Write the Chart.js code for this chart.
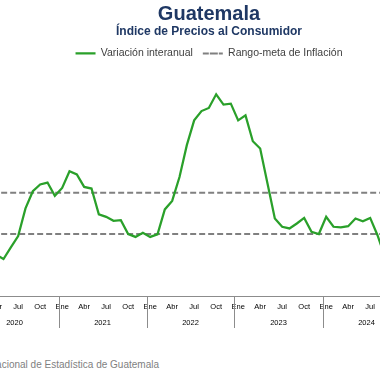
<!DOCTYPE html>
<html lang="es">
<head>
<meta charset="utf-8">
<title>Guatemala - Índice de Precios al Consumidor</title>
<script src="https://cdn.jsdelivr.net/npm/chart.js@4"></script>
<style>
    html, body {
        margin: 0;
        padding: 0;
        width: 380px;
        height: 380px;
        overflow: hidden;
        background: #ffffff;
        font-family: "Liberation Sans", Arial, sans-serif;
    }
    /* el gráfico original está recortado a ambos lados */
    #wrap {
        position: absolute;
        left: -60px;
        top: 0;
        width: 538px;
        height: 340px;
    }
    #fuente {
        position: absolute;
        right: 221px;
        top: 359px;
        white-space: nowrap;
        font-size: 10px;
        color: #7f7f7f;
    }
</style>
</head>
<body>
<div id="wrap"><canvas id="ipcChart"></canvas></div>
<div id="fuente">Fuente: Instituto Nacional de Estadística de Guatemala</div>

<script>
"use strict";

const meses = ['Ene', 'Feb', 'Mar', 'Abr', 'May', 'Jun', 'Jul', 'Ago', 'Sep', 'Oct', 'Nov', 'Dic'];
const anios = ['2020', '2021', '2022', '2023', '2024'];

// Variación interanual (%), por año
const variacion2020 = [null, null, null, 2.0, 1.79, 2.35, 2.9, 4.24, 5.07, 5.4, 5.49, 4.85];
const variacion2021 = [5.23, 6.04, 5.88, 5.28, 5.2, 3.95, 3.83, 3.64, 3.67, 3.0, 2.86, 3.06];
const variacion2022 = [2.86, 2.98, 4.19, 4.6, 5.76, 7.3, 8.5, 8.95, 9.1, 9.76, 9.26, 9.31];
const variacion2023 = [8.5, 8.74, 7.49, 7.14, 5.44, 3.75, 3.35, 3.27, 3.51, 3.78, 3.11, 3.0];
const variacion2024 = [3.83, 3.35, 3.32, 3.38, 3.75, 3.62, 3.78, 2.94, 1.9, null, null, null];

// Rango-meta de inflación: 4% +/- 1 punto
const rangoMeta = [3, 5];

const labels = anios.flatMap(a => meses.map(m => m + ' ' + a));
const variacion = [].concat(variacion2020, variacion2021, variacion2022, variacion2023, variacion2024);

Chart.defaults.font.family = "'Liberation Sans', Arial, sans-serif";

/**
 * Dibuja las etiquetas de año y los separadores bajo el eje x
 */
const yearGroups = {
    id: 'yearGroups',
    afterDraw(chart) {
        const xs = chart.scales.x;
        const ctx = chart.ctx;
        const half = (xs.getPixelForValue(1) - xs.getPixelForValue(0)) / 2;
        const top = chart.chartArea.bottom;

        ctx.save();
        ctx.strokeStyle = '#8c8c8c';
        ctx.lineWidth = 1;
        ctx.fillStyle = '#000000';
        ctx.font = "7.5px 'Liberation Sans', Arial, sans-serif";
        ctx.textAlign = 'center';
        ctx.textBaseline = 'middle';

        anios.forEach((anio, i) => {
            const start = xs.getPixelForValue(i * 12) - half;
            const end = xs.getPixelForValue(i * 12 + 11) + half;
            ctx.beginPath();
            ctx.moveTo(Math.round(start) + 0.5, top);
            ctx.lineTo(Math.round(start) + 0.5, top + 32);
            ctx.stroke();
            ctx.fillText(anio, (start + end) / 2, top + 27);
            if (i === anios.length - 1) {
                ctx.beginPath();
                ctx.moveTo(Math.round(end) + 0.5, top);
                ctx.lineTo(Math.round(end) + 0.5, top + 32);
                ctx.stroke();
            }
        });
        ctx.restore();
    }
};

const ctx = document.getElementById('ipcChart');

new Chart(ctx, {
    type: 'line',
    data: {
        labels: labels,
        datasets: [{
            label: 'Variación interanual',
            data: variacion,
            borderColor: '#2AA02A',
            backgroundColor: '#2AA02A',
            borderWidth: 2.25,
            pointRadius: 0,
            tension: 0,
            spanGaps: false
        }, {
            label: 'Rango-meta de Inflación',
            data: labels.map(() => rangoMeta[0]),
            borderColor: '#808080',
            backgroundColor: '#808080',
            borderWidth: 2,
            borderDash: [6, 3],
            pointRadius: 0
        }, {
            label: 'Rango-meta superior',
            data: labels.map(() => rangoMeta[1]),
            borderColor: '#808080',
            backgroundColor: '#808080',
            borderWidth: 2,
            borderDash: [6, 3],
            pointRadius: 0
        }]
    },
    options: {
        responsive: true,
        maintainAspectRatio: false,
        animation: false,
        events: [],
        layout: {
            padding: { left: 30.5, right: 30.5, top: 3, bottom: 4 }
        },
        plugins: {
            title: {
                display: true,
                text: 'Guatemala',
                color: '#1F3864',
                font: { size: 20, weight: 'bold', lineHeight: 1.1 },
                padding: { top: 0, bottom: 0 }
            },
            subtitle: {
                display: true,
                text: 'Índice de Precios al Consumidor',
                color: '#1F3864',
                font: { size: 12, weight: 'bold', lineHeight: 1.1 },
                padding: { top: 0, bottom: 0 }
            },
            legend: {
                display: true,
                labels: {
                    color: '#404040',
                    font: { size: 10.5 },
                    boxWidth: 20,
                    boxHeight: 0,
                    padding: 10,
                    filter: item => item.datasetIndex < 2
                }
            },
            tooltip: { enabled: false }
        },
        scales: {
            x: {
                offset: true,
                grid: { display: false, drawTicks: false },
                border: { display: true, color: '#8c8c8c', width: 1 },
                ticks: {
                    color: '#000000',
                    font: { size: 7.5 },
                    autoSkip: false,
                    maxRotation: 0,
                    minRotation: 0,
                    padding: 6,
                    callback: (value, index) => index % 3 === 0 ? meses[index % 12] : ''
                },
                afterFit: scale => { scale.height = 40; }
            },
            y: {
                position: 'right',
                min: 0,
                max: 11,
                grid: { display: false },
                border: { display: false },
                ticks: { display: false },
                afterFit: scale => { scale.width = 37; }
            }
        }
    },
    plugins: [yearGroups]
});
</script>
</body>
</html>
